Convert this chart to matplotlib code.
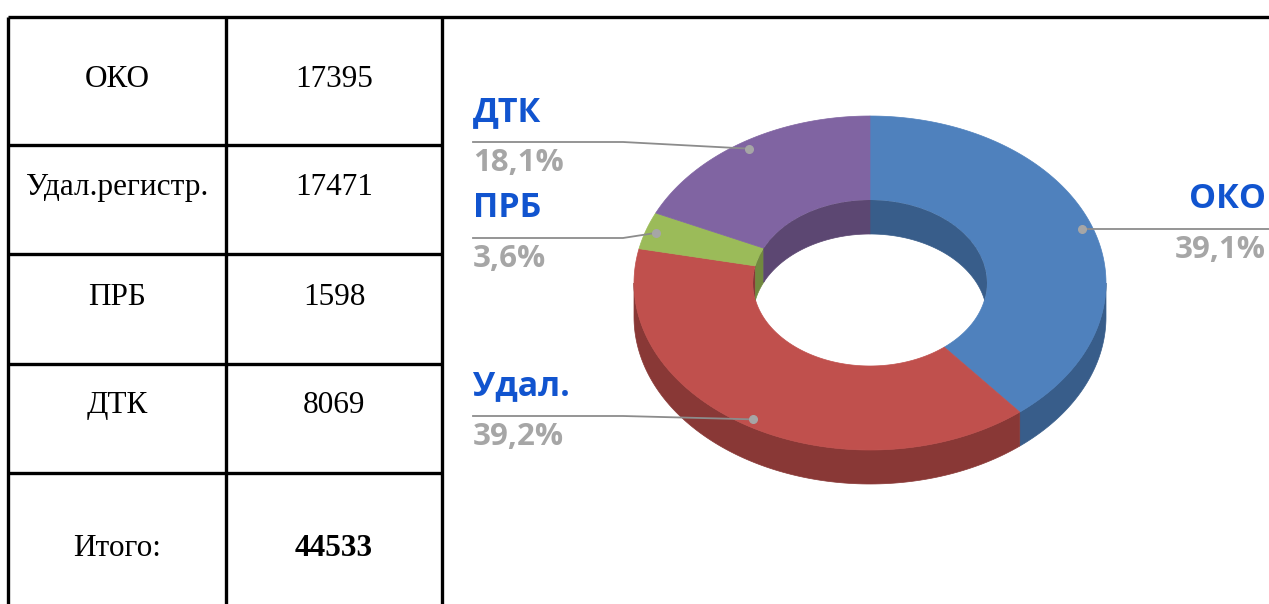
import numpy as np
import matplotlib
matplotlib.use("Agg")
import matplotlib.pyplot as plt
from matplotlib.patches import Polygon, Ellipse

# data
names = ["ОКО", "Удал.регистр.", "ПРБ", "ДТК"]
short_names = ["ОКО", "Удал.", "ПРБ", "ДТК"]
counts = [17395, 17471, 1598, 8069]
total_label = "Итого:"

top_colors = ["#4F81BD", "#C0504D", "#9BBB59", "#8064A2"]
side_colors = ["#385D8A", "#893836", "#71893F", "#5C4772"]

W, H = 1269, 604
fig = plt.figure(figsize=(W / 100, H / 100), dpi=100)
ax = fig.add_axes([0, 0, 1, 1])
ax.set_xlim(0, W)
ax.set_ylim(H, 0)
ax.axis("off")

# ---- table on the left
lw_tab = 2.4
col_x = [8, 226, 442]
row_y = [17, 145, 254, 364, 473]
ax.plot([col_x[0], W], [row_y[0], row_y[0]], c="k", lw=lw_tab, solid_capstyle="butt")
for xx in col_x:
    ax.plot([xx, xx], [row_y[0], H], c="k", lw=lw_tab, solid_capstyle="butt")
for yy in row_y[1:]:
    ax.plot([col_x[0], col_x[-1]], [yy, yy], c="k", lw=lw_tab, solid_capstyle="butt")

fs_tab = 22.5
baselines = [87, 195, 305, 413, 556]
for i, (n, v) in enumerate(zip(names, counts)):
    ax.text(117, baselines[i], n, ha="center", va="baseline",
            family="Liberation Serif", fontsize=fs_tab)
    ax.text(334, baselines[i], str(v), ha="center", va="baseline",
            family="Liberation Serif", fontsize=fs_tab)
ax.text(117, baselines[4], total_label, ha="center", va="baseline",
        family="Liberation Serif", fontsize=fs_tab)
ax.text(334, baselines[4], str(sum(counts)), ha="center", va="baseline",
        family="Liberation Serif", fontsize=fs_tab, weight="bold")

# ---- 3d doughnut
cx, cy = 870, 283
Rx, Ry = 236, 167
rx, ry = 117, 83
depth = 34

frac = np.array(counts) / sum(counts)
edges = np.concatenate([[0], np.cumsum(frac) * 360])


def pts(a0, a1, ax_r, ay_r, dy=0, n=120):
    t = np.radians(np.linspace(a0, a1, n))
    return np.column_stack([cx + ax_r * np.sin(t), cy - ay_r * np.cos(t) + dy])


def overlap(a0, a1, lo, hi):
    b0, b1 = max(a0, lo), min(a1, hi)
    return (b0, b1) if b1 > b0 else None


# outer side wall (front half)
for i in range(len(counts)):
    seg = overlap(edges[i], edges[i + 1], 90, 270)
    if seg:
        top = pts(seg[0], seg[1], Rx, Ry)
        bot = pts(seg[0], seg[1], Rx, Ry, depth)[::-1]
        ax.add_patch(Polygon(np.vstack([top, bot]), closed=True,
                             fc=side_colors[i], ec=side_colors[i], lw=0.5, zorder=2))

# top face
for i in range(len(counts)):
    outer = pts(edges[i], edges[i + 1], Rx, Ry)
    inner = pts(edges[i], edges[i + 1], rx, ry)[::-1]
    ax.add_patch(Polygon(np.vstack([outer, inner]), closed=True,
                         fc=top_colors[i], ec=top_colors[i], lw=0.5, zorder=3))

# inner wall seen through the hole (back half)
hole = Ellipse((cx, cy), 2 * rx, 2 * ry, transform=ax.transData)
for i in range(len(counts)):
    for lo, hi in [(-90, 90), (270, 450)]:
        seg = overlap(edges[i], edges[i + 1], lo, hi)
        if seg:
            top = pts(seg[0], seg[1], rx, ry)
            bot = pts(seg[0], seg[1], rx, ry, depth)[::-1]
            p = Polygon(np.vstack([top, bot]), closed=True,
                        fc=side_colors[i], ec=side_colors[i], lw=0.5, zorder=3)
            ax.add_patch(p)
            p.set_clip_path(hole)

# ---- labels with leader lines
lab_blue = "#1154CF"
lab_gray = "#A6A6A6"
line_c = "#8C8C8C"
# label anchor: x of text, y of leader line, side
anchors = [(1266, 228, "right"), (473, 416, "left"), (473, 238, "left"), (473, 142, "left")]
for i in range(len(counts)):
    mid = np.radians((edges[i] + edges[i + 1]) / 2)
    dx = cx + 0.955 * Rx * np.sin(mid)
    dy = cy - 0.955 * Ry * np.cos(mid)
    tx, ly, ha = anchors[i]
    if ha == "right":
        ax.plot([dx, W], [dy, dy], c=line_c, lw=1.3, zorder=4)
        ly = dy
    else:
        ax.plot([dx, 623, tx], [dy, ly, ly], c=line_c, lw=1.3, zorder=4)
    ax.plot(dx, dy, "o", ms=5.5, c=lab_gray, zorder=5)
    pct = f"{frac[i] * 100:.1f}%".replace(".", ",")
    ax.text(tx, ly - 21, short_names[i], ha=ha, va="baseline", color=lab_blue,
            family="Open Sans", weight="bold", fontsize=24.5)
    ax.text(tx, ly + 29, pct, ha=ha, va="baseline", color=lab_gray,
            family="Open Sans", weight="bold", fontsize=22.5)

plt.savefig("out.png", dpi=100)
